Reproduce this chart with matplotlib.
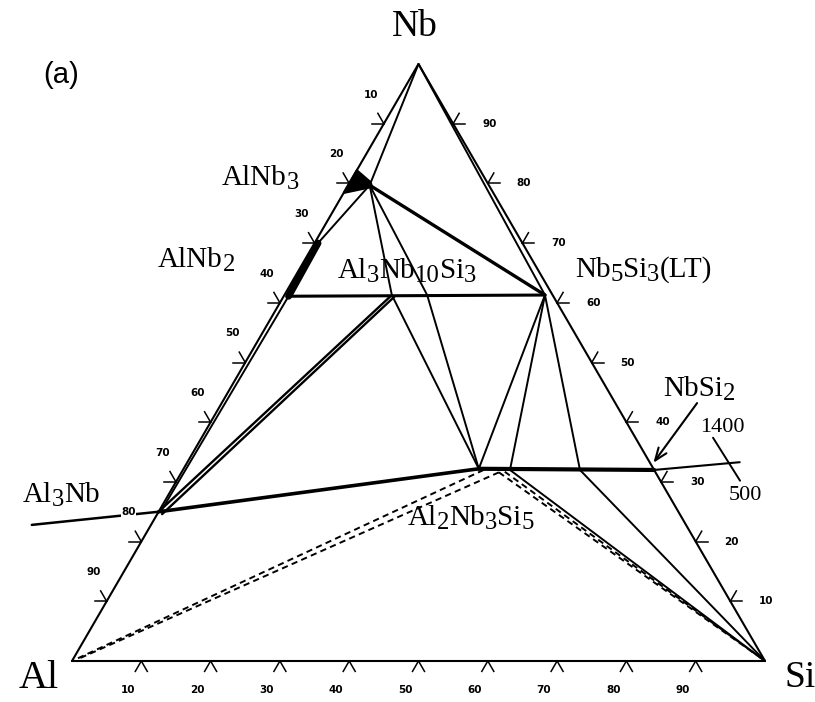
import re
import numpy as np
import matplotlib.pyplot as plt

plt.rcParams['mathtext.fontset'] = 'stix'
plt.rcParams['font.family'] = ['Liberation Serif', 'DejaVu Serif']

# compositions as (at.% Nb, at.% Si); Al is the balance
nb_corner = (100.0, 0.0)
al_corner = (0.0, 0.0)
si_corner = (0.0, 100.0)

alnb3 = (79.7, 3.1)
alnb3_region = [(82.2, 0.0), (78.4, 0.0), (79.4, 3.6), (80.2, 3.0)]
alnb2_top = (70.0, 0.5)
alnb2_bot = (61.1, 0.7)
al3nb = (25.0, 0.0)
al3nb_in = (25.1, 0.3)
al3nb_2 = (24.6, 0.7)
nb5si3 = (61.3, 37.6)
al3nb10si3 = (61.3, 15.5)
al3nb10si3_2 = (61.0, 16.0)
tau_edge = (61.3, 20.6)
al2nb3si5 = (32.2, 42.6)
pt_b = (32.0, 47.2)
pt_c = (32.0, 57.3)
nbsi2 = (32.0, 68.0)
dash_1 = (32.0, 43.4)
dash_2 = (31.6, 45.8)
dash_3 = (31.7, 46.6)
al_near = (0.4, 0.8)
al3nb_ext = (22.8, -17.2)
nbsi2_ext = (33.3, 79.7)
temp_mark = [(37.4, 73.8), (30.2, 81.3)]
arrow_tail = (43.2, 68.6)
arrow_tip = (33.2, 67.3)

tick_vals = [10, 20, 30, 40, 50, 60, 70, 80, 90]

H = np.sqrt(3) / 2


def to_xy(nb, si):
    nb = np.asarray(nb, dtype=float) / 100.0
    si = np.asarray(si, dtype=float) / 100.0
    return si + nb / 2, nb * H


def seg(ax, pts, lw=1.4, ls='-', **kw):
    nb = [p[0] for p in pts]
    si = [p[1] for p in pts]
    x, y = to_xy(nb, si)
    ax.plot(x, y, color='black', lw=lw, ls=ls, solid_capstyle='round', **kw)


fig = plt.figure(figsize=(8.15, 7.02), dpi=100)
ax = fig.add_axes([0, 0, 1, 1])
ax.set_xlim(-72 / 693, 743 / 693)
ax.set_ylim(-41 / 597 * H, 661 / 597 * H)
ax.axis('off')

# triangle frame
seg(ax, [al_corner, si_corner, nb_corner, al_corner], lw=1.5)

# AlNb3 / AlNb2 solid solutions
xb, yb = to_xy([p[0] for p in alnb3_region], [p[1] for p in alnb3_region])
ax.fill(xb, yb, color='black', lw=1.5)
seg(ax, [alnb2_top, alnb2_bot], lw=5)

# tie lines
seg(ax, [nb_corner, alnb3])
seg(ax, [nb_corner, nb5si3])
seg(ax, [alnb3, alnb2_top])
seg(ax, [alnb3, nb5si3], lw=2.4)
seg(ax, [alnb3, al3nb10si3, al2nb3si5])
seg(ax, [alnb3, tau_edge, al2nb3si5])
seg(ax, [alnb2_bot, nb5si3], lw=2.2)
seg(ax, [al3nb_in, alnb2_bot])
seg(ax, [al3nb, al3nb10si3], lw=1.7)
seg(ax, [al3nb_2, al3nb10si3_2], lw=1.7)
seg(ax, [nb5si3, al2nb3si5])
seg(ax, [nb5si3, pt_b])
seg(ax, [nb5si3, pt_c])
seg(ax, [al3nb, al2nb3si5], lw=2.6)
seg(ax, [al2nb3si5, nbsi2], lw=3.0)
seg(ax, [pt_b, si_corner])
seg(ax, [pt_c, si_corner])

# dashed (metastable) lines
dash = dict(dashes=(3.2, 2.2))
seg(ax, [dash_1, al_corner], lw=1.4, **dash)
seg(ax, [dash_2, al_near], lw=1.4, **dash)
seg(ax, [dash_2, si_corner], lw=1.4, **dash)
seg(ax, [dash_3, si_corner], lw=1.4, **dash)

# lines running out of the triangle
seg(ax, [al3nb_ext, al3nb], lw=1.8)
seg(ax, [nbsi2, nbsi2_ext], lw=1.5)
seg(ax, temp_mark, lw=1.4)

ax.annotate('', xy=to_xy(*arrow_tip), xytext=to_xy(*arrow_tail),
            arrowprops=dict(arrowstyle='->,head_length=0.9,head_width=0.35',
                            lw=1.5, color='black', shrinkA=0, shrinkB=0))

# edge ticks: apex on the edge, legs pointing outward
leg = 12.0


def tick(ax, nb, si, angles, label, offset):
    x0, y0 = to_xy(nb, si)
    for a in angles:
        r = np.deg2rad(a)
        ax.plot([x0, x0 + leg / 693 * np.cos(r)], [y0, y0 + leg / 689.4 * np.sin(r)],
                color='black', lw=1.1)
    ax.annotate(label, xy=(x0, y0), xytext=offset, textcoords='offset points',
                ha='center', va='center', fontsize=7.5, fontweight='bold',
                family='DejaVu Sans',
                bbox=dict(fc='white', ec='none', pad=0.3))


for v in tick_vals:
    tick(ax, 100 - v, 0, (120, 180), str(v), (-9.4, 21))
    tick(ax, v, 100 - v, (0, 60), str(v), (26, 0))
    tick(ax, 0, v, (240, 300), str(v), (-9.4, -21))


def label(px, py, s, size=19, **kw):
    fig.text(px / 815, 1 - py / 702, s, fontsize=size, ha='center', va='center', **kw)


renderer = fig.canvas.get_renderer()


def formula(px, py, s, size=21):
    # px: left edge, py: baseline, both in pixels from the top-left corner
    x = px
    for part in re.findall(r'\d+|\D+', s):
        sub = part.isdigit()
        fs = size * 0.85 if sub else size
        yy = py + (4 if sub else 0)
        t = fig.text(x / 815, 1 - yy / 702, part, fontsize=fs, ha='left', va='baseline')
        x += t.get_window_extent(renderer).width


label(415, 27, 'Nb', size=27)
label(39, 678, 'Al', size=29)
label(800, 678, 'Si', size=27)
label(61, 75, '(a)', size=21, family='Liberation Sans')

formula(222, 185, 'AlNb3')
formula(158, 267, 'AlNb2')
formula(338, 278, 'Al3Nb10Si3')
formula(575, 277, 'Nb5Si3(LT)')
formula(663, 396, 'NbSi2')
formula(23, 502, 'Al3Nb')
formula(408, 525, 'Al2Nb3Si5')
label(722, 427, '1400', size=16)
label(745, 495, '500', size=16)

fig.savefig('out.png', dpi=100, facecolor='white')
